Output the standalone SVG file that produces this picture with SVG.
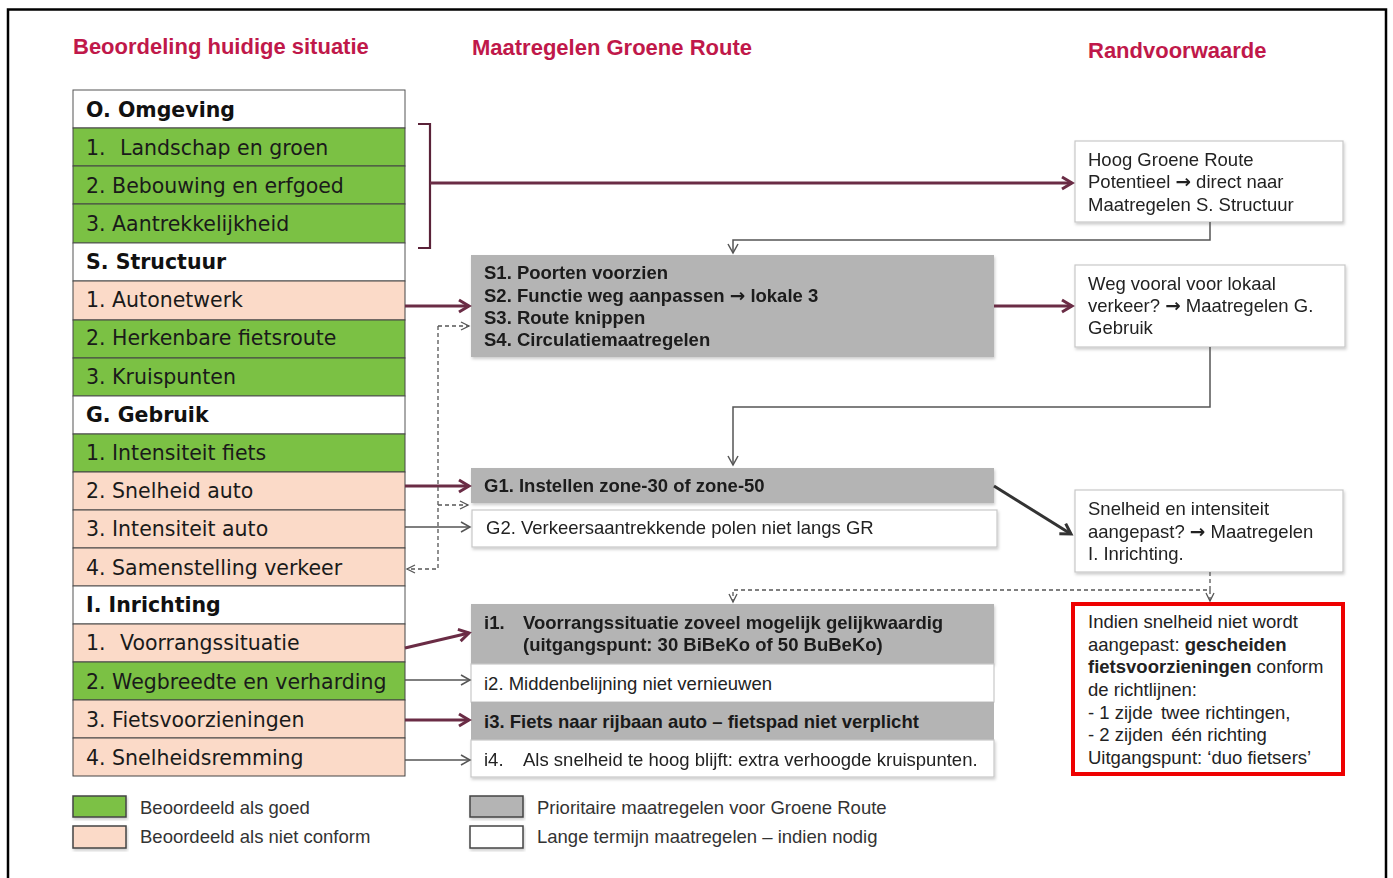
<svg xmlns="http://www.w3.org/2000/svg" width="1393" height="878" viewBox="0 0 1393 878">
<style>
.hdr{font-family:"Liberation Sans",Arial,sans-serif;font-weight:bold;font-size:22px;fill:#c0184a}
.tt{font-family:"DejaVu Sans",Verdana,sans-serif;font-size:20.5px;fill:#1a1a1a}
.tb{font-family:"DejaVu Sans",Verdana,sans-serif;font-size:20.5px;font-weight:bold;fill:#111}
.bx{font-family:"Liberation Sans",Arial,sans-serif;font-size:18.5px;fill:#222}
.bb{font-family:"Liberation Sans",Arial,sans-serif;font-size:18.5px;font-weight:bold;fill:#1a1a1a}
.lg{font-family:"Liberation Sans",Arial,sans-serif;font-size:18.5px;fill:#333}
.ar{font-family:"DejaVu Sans",sans-serif;font-weight:bold}
.w{fill:#fff;stroke:#555;stroke-width:1}
.g{fill:#7bc144;stroke:#444;stroke-width:1}
.p{fill:#fbdac8;stroke:#444;stroke-width:1}
.gr{fill:#b4b4b4}
.wb{fill:#fff;stroke:#c8c8c8;stroke-width:1.2}
.thick{stroke:#6a2c45;stroke-width:3;fill:none}
.thin{stroke:#555;stroke-width:1.5;fill:none}
.dash{stroke:#555;stroke-width:1.3;fill:none;stroke-dasharray:4,3}
.mline{stroke:#5a2238;stroke-width:2.2;fill:none}
</style>
<defs>
<marker id="ah" markerUnits="userSpaceOnUse" markerWidth="16" markerHeight="16" refX="13" refY="8" orient="auto"><path d="M3,2 L13,8 L3,14" fill="none" stroke="#6a2c45" stroke-width="3"/></marker>
<marker id="ahk" markerUnits="userSpaceOnUse" markerWidth="16" markerHeight="16" refX="13" refY="8" orient="auto"><path d="M3,2 L13,8 L3,14" fill="none" stroke="#333" stroke-width="3"/></marker>
<marker id="at" markerUnits="userSpaceOnUse" markerWidth="16" markerHeight="16" refX="13" refY="8" orient="auto"><path d="M4,3 L13,8 L4,13" fill="none" stroke="#555" stroke-width="1.5"/></marker>
<marker id="ad" markerUnits="userSpaceOnUse" markerWidth="16" markerHeight="16" refX="13" refY="8" orient="auto"><path d="M5,4 L13,8 L5,12" fill="none" stroke="#555" stroke-width="1.3"/></marker>
<filter id="sh" x="-5%" y="-5%" width="110%" height="120%"><feDropShadow dx="1" dy="2" stdDeviation="1.5" flood-color="#000" flood-opacity="0.2"/></filter>
</defs>
<rect width="1393" height="878" fill="#fff"/>
<path d="M8,880 L8,9.5 L1386,9.5 L1386,880" fill="none" stroke="#000" stroke-width="2.5"/>

<g id="headers">
<text class="hdr" x="73" y="54">Beoordeling huidige situatie</text>
<text class="hdr" x="472" y="55">Maatregelen Groene Route</text>
<text class="hdr" x="1088" y="58">Randvoorwaarde</text>
</g>

<g id="table">
<g id="row-O"><rect class="w" x="73" y="90" width="332" height="38"/><text class="tb" x="86" y="117">O. Omgeving</text></g>
<g id="row-O1"><rect class="g" x="73" y="128" width="332" height="38"/><text class="tt" x="86" y="155">1.<tspan x="120">Landschap en groen</tspan></text></g>
<g id="row-O2"><rect class="g" x="73" y="166" width="332" height="38"/><text class="tt" x="86" y="193">2. Bebouwing en erfgoed</text></g>
<g id="row-O3"><rect class="g" x="73" y="204" width="332" height="39"/><text class="tt" x="86" y="231">3. Aantrekkelijkheid</text></g>
<g id="row-S"><rect class="w" x="73" y="243" width="332" height="38"/><text class="tb" x="86" y="269">S. Structuur</text></g>
<g id="row-S1"><rect class="p" x="73" y="281" width="332" height="39"/><text class="tt" x="86" y="307">1. Autonetwerk</text></g>
<g id="row-S2"><rect class="g" x="73" y="320" width="332" height="38"/><text class="tt" x="86" y="345">2. Herkenbare fietsroute</text></g>
<g id="row-S3"><rect class="g" x="73" y="358" width="332" height="38"/><text class="tt" x="86" y="384">3. Kruispunten</text></g>
<g id="row-G"><rect class="w" x="73" y="396" width="332" height="38"/><text class="tb" x="86" y="422">G. Gebruik</text></g>
<g id="row-G1"><rect class="g" x="73" y="434" width="332" height="38"/><text class="tt" x="86" y="460">1. Intensiteit fiets</text></g>
<g id="row-G2"><rect class="p" x="73" y="472" width="332" height="38"/><text class="tt" x="86" y="498">2. Snelheid auto</text></g>
<g id="row-G3"><rect class="p" x="73" y="510" width="332" height="38"/><text class="tt" x="86" y="536">3. Intensiteit auto</text></g>
<g id="row-G4"><rect class="p" x="73" y="548" width="332" height="38"/><text class="tt" x="86" y="575">4. Samenstelling verkeer</text></g>
<g id="row-I"><rect class="w" x="73" y="586" width="332" height="38"/><text class="tb" x="86" y="612">I. Inrichting</text></g>
<g id="row-I1"><rect class="p" x="73" y="624" width="332" height="38"/><text class="tt" x="86" y="650">1.<tspan x="120">Voorrangssituatie</tspan></text></g>
<g id="row-I2"><rect class="g" x="73" y="662" width="332" height="38"/><text class="tt" x="86" y="689">2. Wegbreedte en verharding</text></g>
<g id="row-I3"><rect class="p" x="73" y="700" width="332" height="38"/><text class="tt" x="86" y="727">3. Fietsvoorzieningen</text></g>
<g id="row-I4"><rect class="p" x="73" y="738" width="332" height="38"/><text class="tt" x="86" y="765">4. Snelheidsremming</text></g>
</g>

<g id="box-S" filter="url(#sh)"><rect class="gr" x="471" y="255" width="523" height="102"/>
<text class="bb" x="484" y="279">S1. Poorten voorzien</text>
<text class="bb" x="484" y="302">S2. Functie weg aanpassen <tspan class="ar">→</tspan> lokale 3</text>
<text class="bb" x="484" y="324">S3. Route knippen</text>
<text class="bb" x="484" y="346">S4. Circulatiemaatregelen</text></g>

<g id="box-G1" filter="url(#sh)"><rect class="gr" x="471" y="468" width="523" height="35"/>
<text class="bb" x="484" y="492">G1. Instellen zone-30 of zone-50</text></g>
<g id="box-G2" filter="url(#sh)"><rect class="wb" x="472" y="510" width="525" height="37"/>
<text class="bx" x="486" y="534">G2. Verkeersaantrekkende polen niet langs GR</text></g>

<g id="box-i1" filter="url(#sh)"><rect class="gr" x="471" y="604" width="523" height="60"/>
<text class="bb" x="484" y="629">i1.</text>
<text class="bb" x="523" y="629">Voorrangssituatie zoveel mogelijk gelijkwaardig</text>
<text class="bb" x="523" y="651">(uitgangspunt: 30 BiBeKo of 50 BuBeKo)</text></g>
<g id="box-i2"><rect class="wb" x="471" y="664" width="523" height="38"/>
<text class="bx" x="484" y="690">i2. Middenbelijning  niet vernieuwen</text></g>
<g id="box-i3"><rect class="gr" x="471" y="702" width="523" height="38"/>
<text class="bb" x="484" y="728">i3. Fiets naar rijbaan auto – fietspad niet verplicht</text></g>
<g id="box-i4" filter="url(#sh)"><rect class="wb" x="471" y="740" width="523" height="37"/>
<text class="bx" x="484" y="766">i4.</text>
<text class="bx" x="523" y="766">Als snelheid te hoog blijft: extra verhoogde kruispunten.</text></g>

<g id="box-R1" filter="url(#sh)"><rect class="wb" x="1075" y="141" width="268" height="81"/>
<text class="bx" x="1088" y="166">Hoog Groene Route</text>
<text class="bx" x="1088" y="188">Potentieel  <tspan class="ar">→</tspan> direct naar</text>
<text class="bx" x="1088" y="211">Maatregelen S. Structuur</text></g>
<g id="box-R2" filter="url(#sh)"><rect class="wb" x="1075" y="265" width="270" height="82"/>
<text class="bx" x="1088" y="290">Weg vooral voor lokaal</text>
<text class="bx" x="1088" y="312">verkeer? <tspan class="ar">→</tspan> Maatregelen G.</text>
<text class="bx" x="1088" y="334">Gebruik</text></g>
<g id="box-R3" filter="url(#sh)"><rect class="wb" x="1075" y="490" width="268" height="82"/>
<text class="bx" x="1088" y="515">Snelheid en intensiteit</text>
<text class="bx" x="1088" y="538">aangepast? <tspan class="ar">→</tspan> Maatregelen</text>
<text class="bx" x="1088" y="560">I. Inrichting.</text></g>
<g id="box-R4"><rect x="1073" y="604" width="270" height="170" fill="#fff" stroke="#ee0000" stroke-width="4"/>
<text class="bx" x="1088" y="628">Indien snelheid niet wordt</text>
<text class="bx" x="1088" y="651">aangepast: <tspan font-weight="bold">gescheiden</tspan></text>
<text class="bx" x="1088" y="673"><tspan font-weight="bold">fietsvoorzieningen</tspan> conform</text>
<text class="bx" x="1088" y="696">de richtlijnen:</text>
<text class="bx" x="1088" y="719">- 1 zijde <tspan dx="3">twee richtingen,</tspan></text>
<text class="bx" x="1088" y="741">- 2 zijden <tspan dx="3">één richting</tspan></text>
<text class="bx" x="1088" y="764">Uitgangspunt: ‘duo fietsers’</text></g>

<g id="connectors">
<path class="mline" d="M418,124 L430,124 L430,248 L418,248"/>
<path class="thick" d="M430,183 L1072,183" marker-end="url(#ah)"/>
<path class="thin" d="M1210,222 L1210,240 L733,240 L733,253" marker-end="url(#at)"/>
<path class="thick" d="M405,306 L469,306" marker-end="url(#ah)"/>
<path class="thick" d="M994,306 L1072,306" marker-end="url(#ah)"/>
<path class="thin" d="M1210,347 L1210,407 L733,407 L733,465" marker-end="url(#at)"/>
<path class="thick" d="M405,486 L469,486" marker-end="url(#ah)"/>
<path class="thin" d="M405,527 L470,527" marker-end="url(#at)"/>
<path class="dash" d="M438,326 L438,569 L407,569" marker-end="url(#ad)"/>
<path class="dash" d="M438,326 L469,326" marker-end="url(#ad)"/>
<path class="dash" d="M438,505 L468,505" marker-end="url(#ad)"/>
<path d="M994,486 L1071,534" stroke="#333" stroke-width="3" fill="none" marker-end="url(#ahk)"/>
<path class="dash" d="M1210,572 L1210,590 L733,590 L733,602" marker-end="url(#ad)"/>
<path class="dash" d="M1210,590 L1210,601" marker-end="url(#ad)"/>
<path class="thick" d="M405,648 L469,633" marker-end="url(#ah)"/>
<path class="thin" d="M405,680 L470,680" marker-end="url(#at)"/>
<path class="thick" d="M405,720 L469,720" marker-end="url(#ah)"/>
<path class="thin" d="M405,760 L470,760" marker-end="url(#at)"/>
</g>

<g id="legend">
<rect x="73" y="796" width="53" height="21" fill="#7bc144" stroke="#444" stroke-width="1.5" filter="url(#sh)"/>
<text class="lg" x="140" y="814">Beoordeeld als goed</text>
<rect x="73" y="826" width="53" height="22" fill="#fbdac8" stroke="#444" stroke-width="1.5" filter="url(#sh)"/>
<text class="lg" x="140" y="843">Beoordeeld als niet conform</text>
<rect x="470" y="796" width="53" height="21" fill="#b4b4b4" stroke="#444" stroke-width="1.5" filter="url(#sh)"/>
<text class="lg" x="537" y="814">Prioritaire maatregelen voor Groene Route</text>
<rect x="470" y="826" width="53" height="22" fill="#fff" stroke="#444" stroke-width="1.5" filter="url(#sh)"/>
<text class="lg" x="537" y="843">Lange termijn maatregelen – indien nodig</text>
</g>
</svg>
